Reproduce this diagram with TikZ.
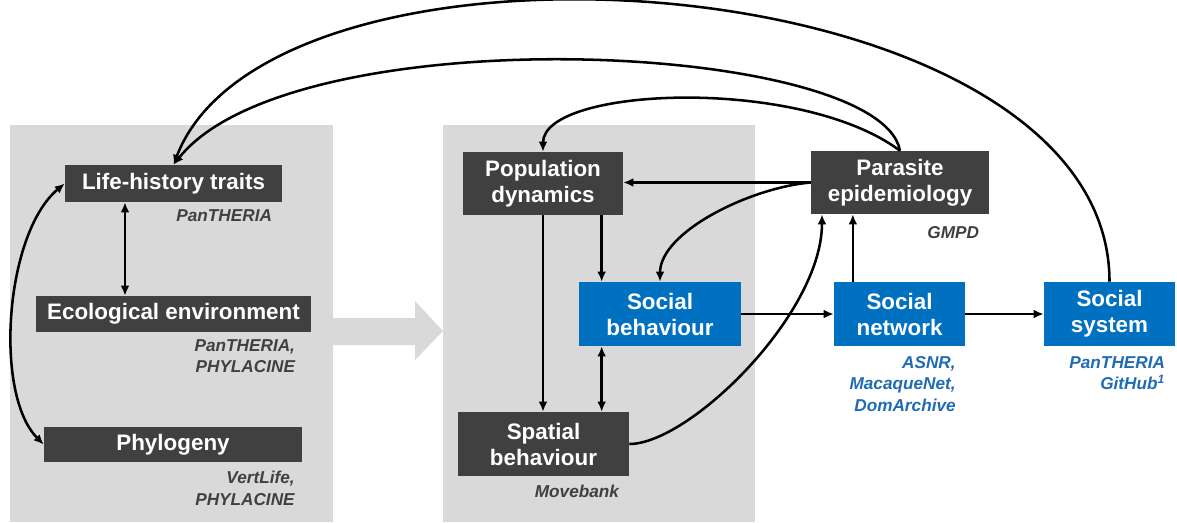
\documentclass[tikz,border=0pt]{standalone}
\usepackage{fontspec}
\setmainfont{Liberation Sans}
\usepackage{xcolor}
\definecolor{BoxGray}{HTML}{404040}
\definecolor{SocBlue}{HTML}{0070C0}
\definecolor{PanelGray}{HTML}{D9D9D9}
\definecolor{SrcBlue}{HTML}{1F6CB4}
\usepackage{tikz}
\usetikzlibrary{arrows.meta,positioning}
\tikzset{
  greybox/.style={fill=BoxGray, text=white, align=center, inner sep=2pt,
                  font=\fontsize{16.8}{19.5}\selectfont\bfseries},
  bluebox/.style={greybox, fill=SocBlue},
  srclabel/.style={text=BoxGray, align=right, inner sep=0pt,
                  font=\fontsize{12.9}{16}\selectfont\bfseries\itshape},
  srcblue/.style={srclabel, text=SrcBlue},
  linkarr/.style={-{Latex[length=7.5pt,width=6.5pt]}, line width=1.9pt},
  bothArr/.style={{Latex[length=7.5pt,width=6.5pt]}-{Latex[length=7.5pt,width=6.5pt]}, line width=1.9pt}
}

\begin{document}
\begin{tikzpicture}[x=0.75pt, y=-0.75pt]
\useasboundingbox (0,0) rectangle (1177,522);

% background panels and flow arrow
\fill[PanelGray] (10,125) rectangle (333,522);
\fill[PanelGray] (443,125) rectangle (755,522);
\fill[PanelGray] (333,318) -- (415,318) -- (415,301) -- (443,331) -- (415,360) -- (415,345) -- (333,345) -- cycle;

% left panel
\node[greybox, minimum width=162.75pt, minimum height=27.75pt] (lh) at (173.5,183.5) {Life-history traits};
\node[greybox, minimum width=206.25pt, minimum height=27pt] (eco) at (173.5,314) {Ecological environment};
\node[greybox, minimum width=193.5pt, minimum height=26.25pt] (phy) at (173,444.5) {Phylogeny};
\node[srclabel, below left=5pt and 7.5pt of lh.south east] (lhsrc) {PanTHERIA};
\node[srclabel, below left=5pt and 12pt of eco.south east] (ecosrc) {PanTHERIA,\\PHYLACINE};
\node[srclabel, below left=6.5pt and 5.5pt of phy.south east] (physrc) {VertLife,\\PHYLACINE};

% middle panel
\node[greybox, minimum width=120pt, minimum height=47.25pt] (pop) at (543,183.5) {Population\\dynamics};
\node[bluebox, minimum width=121.5pt, minimum height=48pt] (socb) at (660,314) {Social\\behaviour};
\node[greybox, minimum width=128.25pt, minimum height=48pt] (spat) at (543.5,444) {Spatial\\behaviour};
\node[srclabel, below left=6pt and 7.5pt of spat.south east] (spatsrc) {Movebank};

% right part
\node[greybox, minimum width=133.5pt, minimum height=47.25pt] (par) at (900,182.5) {Parasite\\epidemiology};
\node[bluebox, minimum width=98.25pt, minimum height=48pt] (socn) at (899.5,314) {Social\\network};
\node[bluebox, minimum width=98.25pt, minimum height=48pt] (socs) at (1109.5,314) {Social\\system};
\node[srclabel, below left=9pt and 7.5pt of par.south east] (parsrc) {GMPD};
\node[srcblue, below left=7.5pt and 7pt of socn.south east] (socnsrc) {ASNR,\\MacaqueNet,\\DomArchive};
\node[srcblue, below left=7.5pt and 7.5pt of socs.south east] (socssrc) {PanTHERIA\\GitHub\textsuperscript{1}};

\coordinate (lhx) at ([xshift=-36.4pt]lh.south);
\coordinate (popR) at ([xshift=44pt]pop.south);
\coordinate (netL) at ([xshift=-35pt]socn.north);
\coordinate (parB) at ([xshift=-58.5pt]par.south);

% connectors
\draw[bothArr] (lhx) -- (lhx |- eco.north);
\draw[bothArr] (lh.west) .. controls +(-60,50) and +(-50,-50) .. (phy.west);
\draw[linkarr] (par.north) .. controls +(-20,-110) and +(120,-150) .. (lh.north);
\draw[linkarr] (socs.north) .. controls +(0,-320) and +(100,-260) .. (lh.north);
\draw[linkarr] (par.north) .. controls +(-100,-75) and +(0,-65) .. (pop.north);
\draw[linkarr] (par.west) -- (par.west -| pop.east);
\draw[linkarr] (par.west) .. controls +(-60,5) and +(0,-50) .. (socb.north);
\draw[linkarr] (popR) -- (popR |- socb.north);
\draw[linkarr] (pop.south) -- (pop.south |- spat.north);
\draw[bothArr] (socb.south -| popR) -- (spat.north -| popR);
\draw[linkarr] (spat.east) .. controls +(60,0) and +(0,100) .. (parB);
\draw[linkarr] (socb.east) -- (socn.west);
\draw[linkarr] (netL) -- (netL |- par.south);
\draw[linkarr] (socn.east) -- (socs.west);
\end{tikzpicture}
\end{document}
